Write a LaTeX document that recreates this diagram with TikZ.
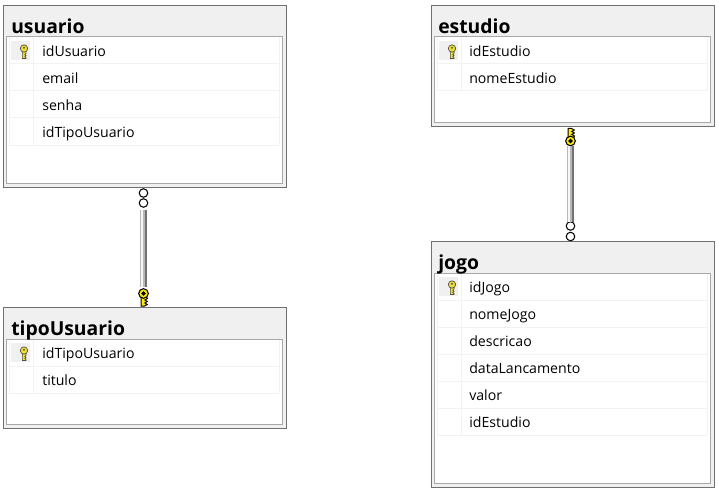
\documentclass[tikz,border=0pt]{standalone}
\usepackage{fontspec}
\setmainfont{Open Sans}
\definecolor{framedark}{HTML}{707070}
\definecolor{framemid}{HTML}{A8A8A8}
\definecolor{headbg}{HTML}{F0F0F0}
\definecolor{gridline}{HTML}{F2F2F2}
\definecolor{keyyellow}{HTML}{FFEA00}
\definecolor{keysmall}{HTML}{EFDF30}
\tikzset{
  x=0.75pt,y=-0.75pt,
  tableframe/.style={rectangle,draw=framedark,line width=0.75pt,fill=headbg,inner sep=0pt,outer sep=0pt},
  tableinner/.style={draw=framemid,line width=0.75pt,fill=white},
  gridrule/.style={draw=gridline,line width=0.75pt},
  tabletitle/.style={anchor=base west,inner sep=0pt,font=\fontsize{14.5}{16}\selectfont\bfseries},
  rowtext/.style={anchor=base west,inner sep=0pt,font=\fontsize{10.6}{12}\selectfont},
  keycell/.style={fill=headbg,draw=none},
  crowfoot/.style={circle,draw=black,fill=white,line width=0.8pt,minimum size=6.4pt,inner sep=0pt,outer sep=0pt},
  keybow/.style={circle,draw=black,fill=keyyellow,line width=0.8pt,minimum size=7.2pt,inner sep=0pt,outer sep=0pt},
  barouter/.style={line width=5pt,draw=black!55},
  barmid/.style={line width=3.6pt,draw=black!28,transform canvas={xshift=-0.5pt}},
  barlight/.style={line width=1.4pt,draw=black!3,transform canvas={xshift=-0.9pt}},
}
% small key beside a primary-key row: x, y (bow centre)
\newcommand{\smallkey}[2]{%
  \filldraw[draw=black!70,fill=keysmall,line width=0.5pt]
    (#1-1.6,#2+2.5) -- (#1-1.6,#2+10) -- (#1+2,#2+10) -- (#1+2,#2+9) -- (#1+0.8,#2+8) -- (#1+2,#2+7) -- (#1+0.8,#2+6) -- (#1+2,#2+5) -- (#1+2,#2+2.5) -- cycle;
  \filldraw[draw=black!70,fill=keysmall,line width=0.5pt] (#1,#2) circle[radius=3.7];
  \fill[black!65] (#1,#2-0.7) circle[radius=1.1];
}
% large key on a connector: x, y (bow centre), direction (1 down, -1 up), node name
\newcommand{\bigkey}[4]{%
  \filldraw[draw=black,fill=keyyellow,line width=0.75pt]
    (#1-2.5,#2+#3*3) -- (#1-2.5,#2+#3*12.5) -- (#1+1,#2+#3*12.5) -- (#1+3.8,#2+#3*11) -- (#1+1.4,#2+#3*9.5) -- (#1+3.8,#2+#3*8) -- (#1+1.4,#2+#3*6.5) -- (#1+4,#2+#3*5) -- (#1+2.5,#2+#3*3) -- cycle;
  \node[keybow] (#4) at (#1,#2) {};
  \fill[black] (#1-2.4,#2) -- (#1,#2-2.4) -- (#1+2.4,#2) -- (#1,#2+2.4) -- cycle;
}
\begin{document}
\begin{tikzpicture}
\useasboundingbox (0,0) rectangle (718,492);
\fill[white] (0,0) rectangle (718,492);

% usuario
\node[tableframe,anchor=north west,minimum width=212.25pt,minimum height=136.5pt] (usuario) at (3.5,5.5) {};
\fill[tableinner] (6.5,37) rectangle (282.5,183.5);
\fill[keycell] (11,41) rectangle (30,60);
\foreach \yy in {64,91,118,145} \draw[gridrule] (9,\yy) -- (279,\yy);
\draw[gridrule] (9,37.5) -- (9,145);
\draw[gridrule] (279,37.5) -- (279,145);
\draw[gridrule] (33,38) -- (33,145);
\node[tabletitle] (usuarioT) at (11,33.5) {usuario};
\node[rowtext] (u1) at (42,56.5) {idUsuario};
\node[rowtext] (u2) at (42,83.5) {email};
\node[rowtext] (u3) at (42,110.5) {senha};
\node[rowtext] (u4) at (42,137.5) {idTipoUsuario};
\smallkey{24}{48.5}

% tipoUsuario
\node[tableframe,anchor=north west,minimum width=212.25pt,minimum height=90.75pt] (tipo) at (3.5,307.5) {};
\fill[tableinner] (6.5,339) rectangle (282.5,424.5);
\fill[keycell] (11,343) rectangle (30,362);
\foreach \yy in {366,393} \draw[gridrule] (9,\yy) -- (279,\yy);
\draw[gridrule] (9,339.5) -- (9,393);
\draw[gridrule] (279,339.5) -- (279,393);
\draw[gridrule] (33,340) -- (33,393);
\node[tabletitle] (tipoT) at (11,335.5) {tipoUsuario};
\node[rowtext] (t1) at (42,358.5) {idTipoUsuario};
\node[rowtext] (t2) at (42,385.5) {titulo};
\smallkey{24}{350.5}

% estudio
\node[tableframe,anchor=north west,minimum width=212.25pt,minimum height=90.75pt] (estudio) at (431.5,5.5) {};
\fill[tableinner] (434.5,37) rectangle (710.5,122.5);
\fill[keycell] (439,41) rectangle (458,60);
\foreach \yy in {64,91} \draw[gridrule] (437,\yy) -- (707,\yy);
\draw[gridrule] (437,37.5) -- (437,91);
\draw[gridrule] (707,37.5) -- (707,91);
\draw[gridrule] (461,38) -- (461,91);
\node[tabletitle] (estudioT) at (438,33.5) {estudio};
\node[rowtext] (e1) at (469,56.5) {idEstudio};
\node[rowtext] (e2) at (469,83.5) {nomeEstudio};
\smallkey{452}{48.5}

% jogo
\node[tableframe,anchor=north west,minimum width=212.25pt,minimum height=184.5pt] (jogo) at (431.5,241.5) {};
\fill[tableinner] (434.5,273) rectangle (710.5,483.5);
\fill[keycell] (439,277) rectangle (458,296);
\foreach \yy in {300,327,354,381,408,435} \draw[gridrule] (437,\yy) -- (707,\yy);
\draw[gridrule] (437,273.5) -- (437,435);
\draw[gridrule] (707,273.5) -- (707,435);
\draw[gridrule] (461,274) -- (461,435);
\node[tabletitle] (jogoT) at (438,269.5) {jogo};
\node[rowtext] (j1) at (469,292.5) {idJogo};
\node[rowtext] (j2) at (469,319.5) {nomeJogo};
\node[rowtext] (j3) at (469,346.5) {descricao};
\node[rowtext] (j4) at (469,373.5) {dataLancamento};
\node[rowtext] (j5) at (469,400.5) {valor};
\node[rowtext] (j6) at (469,427.5) {idEstudio};
\smallkey{452}{284.5}

% connector usuario -- tipoUsuario
\node[crowfoot] (uc1) at (143.5,193) {};
\node[crowfoot] (uc2) at (143.5,203) {};
\bigkey{143.5}{293.5}{1}{uk}
\draw[barouter,shorten <=2,shorten >=1] (uc2.south) -- (uk.north);
\draw[barmid,shorten <=2,shorten >=1] (uc2.south) -- (uk.north);
\draw[barlight,shorten <=2,shorten >=1] (uc2.south) -- (uk.north);

% connector estudio -- jogo
\node[crowfoot] (ec1) at (570.5,226) {};
\node[crowfoot] (ec2) at (570.5,236.5) {};
\bigkey{570.5}{141}{-1}{ek}
\draw[barouter] (ek.south) -- (ec1.north);
\draw[barmid] (ek.south) -- (ec1.north);
\draw[barlight] (ek.south) -- (ec1.north);
\end{tikzpicture}
\end{document}
